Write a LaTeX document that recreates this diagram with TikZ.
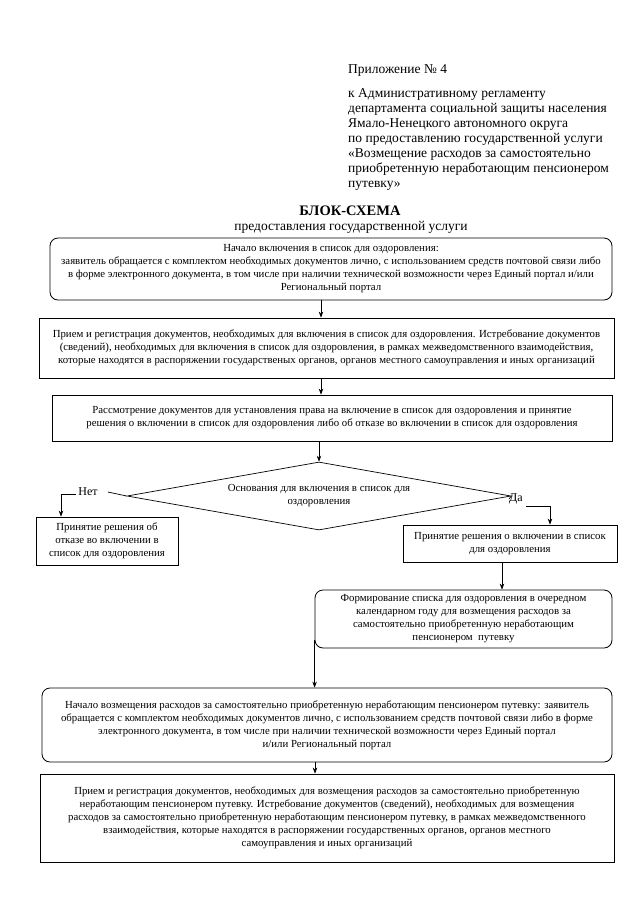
\documentclass[tikz,border=0pt]{standalone}
\usepackage{fontspec}
\setmainfont{Liberation Serif}
\usetikzlibrary{shapes.geometric,arrows.meta}
\begin{document}
\begin{tikzpicture}[x=1pt,y=-1pt,
  box/.style={draw, line width=0.8pt, align=center, inner sep=0pt, font=\fontsize{10.8}{13}\selectfont},
  rbox/.style={box, rounded corners=8pt},
  arr/.style={-{Stealth[length=6pt,width=4.5pt]}, line width=0.7pt},
  ln/.style={line width=0.7pt},
  plain/.style={inner sep=2pt, font=\fontsize{12}{14}\selectfont}]
\useasboundingbox[fill=white] (0,0) rectangle (640,905);
% header
\node[anchor=north west, inner sep=0pt, font=\fontsize{13.5}{15}\selectfont] (h1) at (348,64) {Приложение № 4};
\node[anchor=north west, inner sep=0pt, align=left, font=\fontsize{13.5}{15}\selectfont] (h2) at (348,88)
 {к Административному регламенту\\
  департамента социальной защиты населения\\
  Ямало-Ненецкого автономного округа\\
  по предоставлению государственной услуги\\
  «Возмещение расходов за самостоятельно\\
  приобретенную неработающим пенсионером\\
  путевку»};
\node[inner sep=0pt, font=\fontsize{14.5}{16}\selectfont\bfseries] (t1) at (350,211) {БЛОК-СХЕМА};
\node[inner sep=0pt, font=\fontsize{13.5}{15}\selectfont] (t2) at (351,227) {предоставления государственной услуги};
% boxes
\node[rbox, minimum width=562, minimum height=62] (b1) at (331,269)
 {Начало включения в список для оздоровления:\\
  заявитель обращается с комплектом необходимых документов лично, с использованием средств почтовой связи либо\\
  в форме электронного документа, в том числе при наличии технической возможности через Единый портал и/или\\
  Региональный портал};
\node[box, minimum width=575, minimum height=60] (b2) at (326.5,348)
 {Прием и регистрация документов, необходимых для включения в список для оздоровления. Истребование документов\\
  (сведений), необходимых для включения в список для оздоровления, в рамках межведомственного взаимодействия,\\
  которые находятся в распоряжении государственых органов, органов местного самоуправления и иных организаций};
\node[box, minimum width=560, minimum height=46] (b3) at (332,418)
 {Рассмотрение документов для установления права на включение в список для оздоровления и принятие\\
  решения о включении в список для оздоровления либо об отказе во включении в список для оздоровления};
\node[diamond, aspect=5.6, draw, line width=0.7pt, inner sep=0pt, minimum width=384, minimum height=68, align=center,
  font=\fontsize{10.8}{13}\selectfont] (d) at (319,496)
 {Основания для включения в список для\\ оздоровления};
\node[plain] (no) at (88,492) {Нет};
\node[plain, inner sep=0pt] (yes) at (516,499) {Да};
\node[box, minimum width=142, minimum height=48] (lb) at (107,541)
 {Принятие решения об\\ отказе во включении в\\ список для оздоровления};
\node[box, minimum width=214, minimum height=37] (rb) at (510,543.5)
 {Принятие решения о включении в список\\ для оздоровления};
\node[rbox, minimum width=297, minimum height=58] (b4) at (463.5,619)
 {Формирование списка для оздоровления в очередном\\
  календарном году для возмещения расходов за\\
  самостоятельно приобретенную неработающим\\
  пенсионером\ \ путевку};
\node[rbox, minimum width=570, minimum height=74] (b5) at (327,725)
 {Начало возмещения расходов за самостоятельно приобретенную неработающим пенсионером путевку: заявитель\\
  обращается с комплектом необходимых документов лично, с использованием средств почтовой связи либо в форме\\
  электронного документа, в том числе при наличии технической возможности через Единый портал\\
  и/или Региональный портал};
\node[box, minimum width=574, minimum height=88] (b6) at (327,818)
 {Прием и регистрация документов, необходимых для возмещения расходов за самостоятельно приобретенную\\
  неработающим пенсионером путевку. Истребование документов (сведений), необходимых для возмещения\\
  расходов за самостоятельно приобретенную неработающим пенсионером путевку, в рамках межведомственного\\
  взаимодействия, которые находятся в распоряжении государственных органов, органов местного\\
  самоуправления и иных организаций};
% connectors
\coordinate (ax) at (321,0);
\draw[arr] (b1.south -| ax) -- (b2.north -| ax);
\draw[arr] (b2.south -| ax) -- (b3.north -| ax);
\draw[arr] (b3.south -| d.north) -- (d.north);
\draw[ln] (d.west) -- ([xshift=8pt]no.east);
\draw[arr] ([yshift=-2pt]no.west) -| ([xshift=-46pt]lb.north);
\draw[ln] (d.east) -- (yes.west);
\draw[arr] ([xshift=3pt,yshift=-7pt]yes.east) -| ([xshift=40pt]rb.north);
\draw[arr] ([xshift=-8pt]rb.south) -- ([xshift=-8pt]rb.south |- b4.north);
\draw[arr] ([yshift=8pt]b4.south west) -- (b4.south west |- b5.north);
\draw[arr] ([xshift=-12pt]b5.south) -- ([xshift=-12pt]b5.south |- b6.north);
\end{tikzpicture}
\end{document}
